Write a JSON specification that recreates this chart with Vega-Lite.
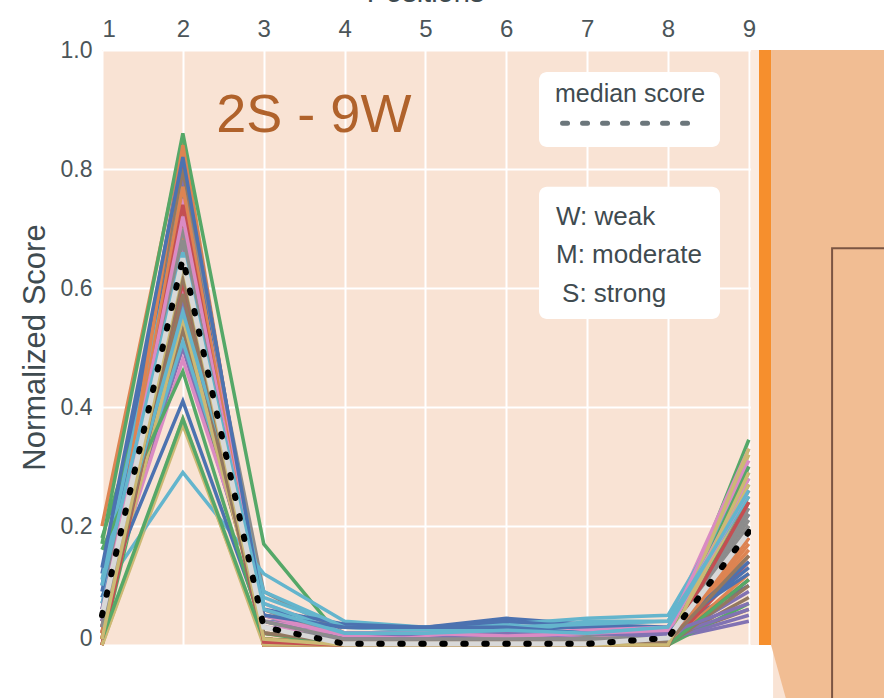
{
"$schema":"https://vega.github.io/schema/vega-lite/v6.json",
"width":782,"height":648,
"autosize":"none",
"padding":{"left":102,"top":50,"right":0,"bottom":0},
"background":"#ffffff",
"config":{"view":{"stroke":null,"fill":"#f9e3d4"},"font":"Liberation Sans"},
"datasets":{
"scores":[
{"s":0,"x":1,"y":0.12},{"s":0,"x":2,"y":0.78},{"s":0,"x":3,"y":0.05},{"s":0,"x":4,"y":0.03},{"s":0,"x":5,"y":0.03},{"s":0,"x":6,"y":0.045},{"s":0,"x":7,"y":0.035},{"s":0,"x":8,"y":0.03},{"s":0,"x":9,"y":0.22},
{"s":1,"x":1,"y":0.2},{"s":1,"x":2,"y":0.85},{"s":1,"x":3,"y":0.02},{"s":1,"x":4,"y":0.01},{"s":1,"x":5,"y":0.01},{"s":1,"x":6,"y":0.01},{"s":1,"x":7,"y":0.01},{"s":1,"x":8,"y":0.01},{"s":1,"x":9,"y":0.15},
{"s":2,"x":1,"y":0.17},{"s":2,"x":2,"y":0.86},{"s":2,"x":3,"y":0.17},{"s":2,"x":4,"y":0.005},{"s":2,"x":5,"y":0.01},{"s":2,"x":6,"y":0.01},{"s":2,"x":7,"y":0.01},{"s":2,"x":8,"y":0.005},{"s":2,"x":9,"y":0.345},
{"s":3,"x":1,"y":0.02},{"s":3,"x":2,"y":0.81},{"s":3,"x":3,"y":0.0},{"s":3,"x":4,"y":0.0},{"s":3,"x":5,"y":0.0},{"s":3,"x":6,"y":0.0},{"s":3,"x":7,"y":0.0},{"s":3,"x":8,"y":0.0},{"s":3,"x":9,"y":0.18},
{"s":4,"x":1,"y":0.05},{"s":4,"x":2,"y":0.79},{"s":4,"x":3,"y":0.03},{"s":4,"x":4,"y":0.01},{"s":4,"x":5,"y":0.01},{"s":4,"x":6,"y":0.02},{"s":4,"x":7,"y":0.02},{"s":4,"x":8,"y":0.01},{"s":4,"x":9,"y":0.04},
{"s":5,"x":1,"y":0.03},{"s":5,"x":2,"y":0.8},{"s":5,"x":3,"y":0.02},{"s":5,"x":4,"y":0.01},{"s":5,"x":5,"y":0.01},{"s":5,"x":6,"y":0.01},{"s":5,"x":7,"y":0.01},{"s":5,"x":8,"y":0.01},{"s":5,"x":9,"y":0.06},
{"s":6,"x":1,"y":0.04},{"s":6,"x":2,"y":0.6},{"s":6,"x":3,"y":0.06},{"s":6,"x":4,"y":0.015},{"s":6,"x":5,"y":0.02},{"s":6,"x":6,"y":0.01},{"s":6,"x":7,"y":0.02},{"s":6,"x":8,"y":0.03},{"s":6,"x":9,"y":0.33},
{"s":7,"x":1,"y":0.06},{"s":7,"x":2,"y":0.77},{"s":7,"x":3,"y":0.09},{"s":7,"x":4,"y":0.02},{"s":7,"x":5,"y":0.015},{"s":7,"x":6,"y":0.02},{"s":7,"x":7,"y":0.015},{"s":7,"x":8,"y":0.02},{"s":7,"x":9,"y":0.25},
{"s":8,"x":1,"y":0.0},{"s":8,"x":2,"y":0.37},{"s":8,"x":3,"y":0.01},{"s":8,"x":4,"y":0.0},{"s":8,"x":5,"y":0.0},{"s":8,"x":6,"y":0.0},{"s":8,"x":7,"y":0.0},{"s":8,"x":8,"y":0.0},{"s":8,"x":9,"y":0.32},
{"s":9,"x":1,"y":0.09},{"s":9,"x":2,"y":0.29},{"s":9,"x":3,"y":0.12},{"s":9,"x":4,"y":0.04},{"s":9,"x":5,"y":0.03},{"s":9,"x":6,"y":0.035},{"s":9,"x":7,"y":0.045},{"s":9,"x":8,"y":0.05},{"s":9,"x":9,"y":0.28},
{"s":10,"x":1,"y":0.1},{"s":10,"x":2,"y":0.83},{"s":10,"x":3,"y":0.04},{"s":10,"x":4,"y":0.03},{"s":10,"x":5,"y":0.025},{"s":10,"x":6,"y":0.03},{"s":10,"x":7,"y":0.03},{"s":10,"x":8,"y":0.025},{"s":10,"x":9,"y":0.1},
{"s":11,"x":1,"y":0.01},{"s":11,"x":2,"y":0.73},{"s":11,"x":3,"y":0.01},{"s":11,"x":4,"y":0.0},{"s":11,"x":5,"y":0.0},{"s":11,"x":6,"y":0.0},{"s":11,"x":7,"y":0.005},{"s":11,"x":8,"y":0.0},{"s":11,"x":9,"y":0.12},
{"s":12,"x":1,"y":0.0},{"s":12,"x":2,"y":0.57},{"s":12,"x":3,"y":0.02},{"s":12,"x":4,"y":0.005},{"s":12,"x":5,"y":0.005},{"s":12,"x":6,"y":0.005},{"s":12,"x":7,"y":0.005},{"s":12,"x":8,"y":0.0},{"s":12,"x":9,"y":0.07},
{"s":13,"x":1,"y":0.03},{"s":13,"x":2,"y":0.71},{"s":13,"x":3,"y":0.0},{"s":13,"x":4,"y":0.0},{"s":13,"x":5,"y":0.0},{"s":13,"x":6,"y":0.0},{"s":13,"x":7,"y":0.0},{"s":13,"x":8,"y":0.0},{"s":13,"x":9,"y":0.14},
{"s":14,"x":1,"y":0.07},{"s":14,"x":2,"y":0.5},{"s":14,"x":3,"y":0.05},{"s":14,"x":4,"y":0.02},{"s":14,"x":5,"y":0.02},{"s":14,"x":6,"y":0.02},{"s":14,"x":7,"y":0.01},{"s":14,"x":8,"y":0.01},{"s":14,"x":9,"y":0.09},
{"s":15,"x":1,"y":0.04},{"s":15,"x":2,"y":0.53},{"s":15,"x":3,"y":0.03},{"s":15,"x":4,"y":0.01},{"s":15,"x":5,"y":0.01},{"s":15,"x":6,"y":0.01},{"s":15,"x":7,"y":0.01},{"s":15,"x":8,"y":0.01},{"s":15,"x":9,"y":0.2},
{"s":16,"x":1,"y":0.06},{"s":16,"x":2,"y":0.48},{"s":16,"x":3,"y":0.07},{"s":16,"x":4,"y":0.02},{"s":16,"x":5,"y":0.02},{"s":16,"x":6,"y":0.02},{"s":16,"x":7,"y":0.01},{"s":16,"x":8,"y":0.02},{"s":16,"x":9,"y":0.3},
{"s":17,"x":1,"y":0.02},{"s":17,"x":2,"y":0.66},{"s":17,"x":3,"y":0.05},{"s":17,"x":4,"y":0.01},{"s":17,"x":5,"y":0.01},{"s":17,"x":6,"y":0.01},{"s":17,"x":7,"y":0.01},{"s":17,"x":8,"y":0.015},{"s":17,"x":9,"y":0.21},
{"s":18,"x":1,"y":0.01},{"s":18,"x":2,"y":0.7},{"s":18,"x":3,"y":0.01},{"s":18,"x":4,"y":0.0},{"s":18,"x":5,"y":0.005},{"s":18,"x":6,"y":0.005},{"s":18,"x":7,"y":0.0},{"s":18,"x":8,"y":0.0},{"s":18,"x":9,"y":0.26},
{"s":19,"x":1,"y":0.08},{"s":19,"x":2,"y":0.51},{"s":19,"x":3,"y":0.08},{"s":19,"x":4,"y":0.03},{"s":19,"x":5,"y":0.03},{"s":19,"x":6,"y":0.02},{"s":19,"x":7,"y":0.04},{"s":19,"x":8,"y":0.04},{"s":19,"x":9,"y":0.29},
{"s":20,"x":1,"y":0.09},{"s":20,"x":2,"y":0.76},{"s":20,"x":3,"y":0.06},{"s":20,"x":4,"y":0.035},{"s":20,"x":5,"y":0.03},{"s":20,"x":6,"y":0.04},{"s":20,"x":7,"y":0.03},{"s":20,"x":8,"y":0.03},{"s":20,"x":9,"y":0.12},
{"s":21,"x":1,"y":0.0},{"s":21,"x":2,"y":0.69},{"s":21,"x":3,"y":0.0},{"s":21,"x":4,"y":0.0},{"s":21,"x":5,"y":0.0},{"s":21,"x":6,"y":0.0},{"s":21,"x":7,"y":0.0},{"s":21,"x":8,"y":0.0},{"s":21,"x":9,"y":0.17},
{"s":22,"x":1,"y":0.18},{"s":22,"x":2,"y":0.62},{"s":22,"x":3,"y":0.04},{"s":22,"x":4,"y":0.01},{"s":22,"x":5,"y":0.01},{"s":22,"x":6,"y":0.01},{"s":22,"x":7,"y":0.01},{"s":22,"x":8,"y":0.005},{"s":22,"x":9,"y":0.24},
{"s":23,"x":1,"y":0.0},{"s":23,"x":2,"y":0.64},{"s":23,"x":3,"y":0.0},{"s":23,"x":4,"y":0.0},{"s":23,"x":5,"y":0.0},{"s":23,"x":6,"y":0.0},{"s":23,"x":7,"y":0.0},{"s":23,"x":8,"y":0.0},{"s":23,"x":9,"y":0.11},
{"s":24,"x":1,"y":0.03},{"s":24,"x":2,"y":0.58},{"s":24,"x":3,"y":0.02},{"s":24,"x":4,"y":0.01},{"s":24,"x":5,"y":0.01},{"s":24,"x":6,"y":0.015},{"s":24,"x":7,"y":0.01},{"s":24,"x":8,"y":0.01},{"s":24,"x":9,"y":0.05},
{"s":25,"x":1,"y":0.05},{"s":25,"x":2,"y":0.72},{"s":25,"x":3,"y":0.02},{"s":25,"x":4,"y":0.01},{"s":25,"x":5,"y":0.01},{"s":25,"x":6,"y":0.01},{"s":25,"x":7,"y":0.01},{"s":25,"x":8,"y":0.005},{"s":25,"x":9,"y":0.08},
{"s":26,"x":1,"y":0.02},{"s":26,"x":2,"y":0.67},{"s":26,"x":3,"y":0.04},{"s":26,"x":4,"y":0.02},{"s":26,"x":5,"y":0.015},{"s":26,"x":6,"y":0.02},{"s":26,"x":7,"y":0.025},{"s":26,"x":8,"y":0.03},{"s":26,"x":9,"y":0.31},
{"s":27,"x":1,"y":0.04},{"s":27,"x":2,"y":0.63},{"s":27,"x":3,"y":0.06},{"s":27,"x":4,"y":0.01},{"s":27,"x":5,"y":0.01},{"s":27,"x":6,"y":0.01},{"s":27,"x":7,"y":0.01},{"s":27,"x":8,"y":0.01},{"s":27,"x":9,"y":0.23},
{"s":28,"x":1,"y":0.02},{"s":28,"x":2,"y":0.55},{"s":28,"x":3,"y":0.02},{"s":28,"x":4,"y":0.0},{"s":28,"x":5,"y":0.0},{"s":28,"x":6,"y":0.0},{"s":28,"x":7,"y":0.0},{"s":28,"x":8,"y":0.0},{"s":28,"x":9,"y":0.33},
{"s":29,"x":1,"y":0.11},{"s":29,"x":2,"y":0.74},{"s":29,"x":3,"y":0.07},{"s":29,"x":4,"y":0.02},{"s":29,"x":5,"y":0.02},{"s":29,"x":6,"y":0.03},{"s":29,"x":7,"y":0.02},{"s":29,"x":8,"y":0.03},{"s":29,"x":9,"y":0.27},
{"s":30,"x":1,"y":0.08},{"s":30,"x":2,"y":0.41},{"s":30,"x":3,"y":0.03},{"s":30,"x":4,"y":0.02},{"s":30,"x":5,"y":0.02},{"s":30,"x":6,"y":0.02},{"s":30,"x":7,"y":0.02},{"s":30,"x":8,"y":0.02},{"s":30,"x":9,"y":0.13},
{"s":31,"x":1,"y":0.01},{"s":31,"x":2,"y":0.84},{"s":31,"x":3,"y":0.01},{"s":31,"x":4,"y":0.005},{"s":31,"x":5,"y":0.005},{"s":31,"x":6,"y":0.01},{"s":31,"x":7,"y":0.005},{"s":31,"x":8,"y":0.005},{"s":31,"x":9,"y":0.16},
{"s":32,"x":1,"y":0.16},{"s":32,"x":2,"y":0.46},{"s":32,"x":3,"y":0.02},{"s":32,"x":4,"y":0.0},{"s":32,"x":5,"y":0.005},{"s":32,"x":6,"y":0.0},{"s":32,"x":7,"y":0.0},{"s":32,"x":8,"y":0.0},{"s":32,"x":9,"y":0.3},
{"s":33,"x":1,"y":0.0},{"s":33,"x":2,"y":0.61},{"s":33,"x":3,"y":0.0},{"s":33,"x":4,"y":0.0},{"s":33,"x":5,"y":0.0},{"s":33,"x":6,"y":0.0},{"s":33,"x":7,"y":0.0},{"s":33,"x":8,"y":0.0},{"s":33,"x":9,"y":0.19},
{"s":34,"x":1,"y":0.04},{"s":34,"x":2,"y":0.68},{"s":34,"x":3,"y":0.03},{"s":34,"x":4,"y":0.01},{"s":34,"x":5,"y":0.02},{"s":34,"x":6,"y":0.02},{"s":34,"x":7,"y":0.02},{"s":34,"x":8,"y":0.015},{"s":34,"x":9,"y":0.06},
{"s":35,"x":1,"y":0.02},{"s":35,"x":2,"y":0.59},{"s":35,"x":3,"y":0.01},{"s":35,"x":4,"y":0.0},{"s":35,"x":5,"y":0.005},{"s":35,"x":6,"y":0.005},{"s":35,"x":7,"y":0.005},{"s":35,"x":8,"y":0.0},{"s":35,"x":9,"y":0.1},
{"s":36,"x":1,"y":0.03},{"s":36,"x":2,"y":0.75},{"s":36,"x":3,"y":0.05},{"s":36,"x":4,"y":0.015},{"s":36,"x":5,"y":0.01},{"s":36,"x":6,"y":0.015},{"s":36,"x":7,"y":0.02},{"s":36,"x":8,"y":0.02},{"s":36,"x":9,"y":0.28},
{"s":37,"x":1,"y":0.05},{"s":37,"x":2,"y":0.7},{"s":37,"x":3,"y":0.03},{"s":37,"x":4,"y":0.01},{"s":37,"x":5,"y":0.01},{"s":37,"x":6,"y":0.01},{"s":37,"x":7,"y":0.01},{"s":37,"x":8,"y":0.01},{"s":37,"x":9,"y":0.22},
{"s":38,"x":1,"y":0.0},{"s":38,"x":2,"y":0.38},{"s":38,"x":3,"y":0.0},{"s":38,"x":4,"y":0.0},{"s":38,"x":5,"y":0.0},{"s":38,"x":6,"y":0.0},{"s":38,"x":7,"y":0.0},{"s":38,"x":8,"y":0.0},{"s":38,"x":9,"y":0.27},
{"s":39,"x":1,"y":0.07},{"s":39,"x":2,"y":0.56},{"s":39,"x":3,"y":0.09},{"s":39,"x":4,"y":0.03},{"s":39,"x":5,"y":0.025},{"s":39,"x":6,"y":0.03},{"s":39,"x":7,"y":0.035},{"s":39,"x":8,"y":0.04},{"s":39,"x":9,"y":0.25},
{"s":40,"x":1,"y":0.13},{"s":40,"x":2,"y":0.82},{"s":40,"x":3,"y":0.05},{"s":40,"x":4,"y":0.03},{"s":40,"x":5,"y":0.03},{"s":40,"x":6,"y":0.03},{"s":40,"x":7,"y":0.02},{"s":40,"x":8,"y":0.02},{"s":40,"x":9,"y":0.14},
{"s":41,"x":1,"y":0.02},{"s":41,"x":2,"y":0.77},{"s":41,"x":3,"y":0.01},{"s":41,"x":4,"y":0.0},{"s":41,"x":5,"y":0.0},{"s":41,"x":6,"y":0.005},{"s":41,"x":7,"y":0.0},{"s":41,"x":8,"y":0.0},{"s":41,"x":9,"y":0.18},
{"s":42,"x":1,"y":0.01},{"s":42,"x":2,"y":0.38},{"s":42,"x":3,"y":0.01},{"s":42,"x":4,"y":0.0},{"s":42,"x":5,"y":0.0},{"s":42,"x":6,"y":0.0},{"s":42,"x":7,"y":0.0},{"s":42,"x":8,"y":0.0},{"s":42,"x":9,"y":0.11},
{"s":43,"x":1,"y":0.01},{"s":43,"x":2,"y":0.74},{"s":43,"x":3,"y":0.005},{"s":43,"x":4,"y":0.0},{"s":43,"x":5,"y":0.0},{"s":43,"x":6,"y":0.0},{"s":43,"x":7,"y":0.0},{"s":43,"x":8,"y":0.0},{"s":43,"x":9,"y":0.24},
{"s":44,"x":1,"y":0.06},{"s":44,"x":2,"y":0.65},{"s":44,"x":3,"y":0.04},{"s":44,"x":4,"y":0.01},{"s":44,"x":5,"y":0.01},{"s":44,"x":6,"y":0.02},{"s":44,"x":7,"y":0.02},{"s":44,"x":8,"y":0.02},{"s":44,"x":9,"y":0.07},
{"s":45,"x":1,"y":0.03},{"s":45,"x":2,"y":0.62},{"s":45,"x":3,"y":0.02},{"s":45,"x":4,"y":0.005},{"s":45,"x":5,"y":0.005},{"s":45,"x":6,"y":0.005},{"s":45,"x":7,"y":0.005},{"s":45,"x":8,"y":0.005},{"s":45,"x":9,"y":0.15},
{"s":46,"x":1,"y":0.05},{"s":46,"x":2,"y":0.72},{"s":46,"x":3,"y":0.03},{"s":46,"x":4,"y":0.02},{"s":46,"x":5,"y":0.02},{"s":46,"x":6,"y":0.015},{"s":46,"x":7,"y":0.02},{"s":46,"x":8,"y":0.025},{"s":46,"x":9,"y":0.26},
{"s":47,"x":1,"y":0.03},{"s":47,"x":2,"y":0.68},{"s":47,"x":3,"y":0.04},{"s":47,"x":4,"y":0.01},{"s":47,"x":5,"y":0.01},{"s":47,"x":6,"y":0.01},{"s":47,"x":7,"y":0.01},{"s":47,"x":8,"y":0.01},{"s":47,"x":9,"y":0.2},
{"s":48,"x":1,"y":0.01},{"s":48,"x":2,"y":0.64},{"s":48,"x":3,"y":0.01},{"s":48,"x":4,"y":0.0},{"s":48,"x":5,"y":0.0},{"s":48,"x":6,"y":0.0},{"s":48,"x":7,"y":0.0},{"s":48,"x":8,"y":0.0},{"s":48,"x":9,"y":0.29},
{"s":49,"x":1,"y":0.1},{"s":49,"x":2,"y":0.66},{"s":49,"x":3,"y":0.06},{"s":49,"x":4,"y":0.02},{"s":49,"x":5,"y":0.02},{"s":49,"x":6,"y":0.025},{"s":49,"x":7,"y":0.02},{"s":49,"x":8,"y":0.03},{"s":49,"x":9,"y":0.26}
],
"median":[
{"x":1,"y":0.05},{"x":2,"y":0.65},{"x":3,"y":0.03},{"x":4,"y":0.002},{"x":5,"y":0.002},{"x":6,"y":0.002},{"x":7,"y":0.002},{"x":8,"y":0.012},{"x":9,"y":0.19}
]
},
"encoding":{
"x":{"field":"x","type":"quantitative","scale":{"domain":[1,10.672],"nice":false,"zero":false},
"axis":{"orient":"top","values":[1,2,3,4,5,6,7,8,9],"format":"d","grid":true,"gridColor":"#ffffff","gridWidth":2,"gridOpacity":1,"ticks":false,"domain":false,
"labelFont":"Liberation Sans","labelFontSize":24,"labelColor":"#4b5559","labelPadding":14,"labelBaseline":"alphabetic",
"title":"Positions","titleFont":"Liberation Sans","titleFontSize":29,"titleFontWeight":"normal","titleColor":"#3f4b50","titleX":323,"titleY":-49,"titleAlign":"center","titleBaseline":"alphabetic"}},
"y":{"field":"y","type":"quantitative","scale":{"domain":[-0.089,1],"nice":false,"zero":false},
"axis":{"orient":"left","values":[0,0.2,0.4,0.6,0.8,1],"labelExpr":"datum.value == 0 ? '0' : format(datum.value, '.1f')","grid":true,"gridColor":"#ffffff","gridWidth":2,"gridOpacity":1,"ticks":false,"domain":false,
"labelFont":"Liberation Sans","labelFontSize":23,"labelColor":"#4b5559","labelPadding":10,
"labelOffset":{"condition":{"test":"datum.value == 0","value":-7},"value":0},
"title":"Normalized Score","titleFont":"Liberation Sans","titleFontSize":31,"titleFontWeight":"normal","titleColor":"#3f4b50","titleX":-67,"titleY":297,"titleAngle":270,"titleAlign":"center","titleBaseline":"middle"}}
},
"layer":[
{"data":{"values":[{"x":1,"x2":9.3,"y":-0.2,"y2":0}]},"mark":{"type":"rect","fill":"#ffffff"},"encoding":{"x2":{"field":"x2"},"y2":{"field":"y2"}}},
{"data":{"name":"scores"},"mark":{"type":"line","strokeWidth":3.5},"encoding":{"color":{"field":"s","type":"nominal","legend":null,"scale":{"range":["#4C72B0","#DD8452","#55A868","#C44E52","#8172B3","#937860","#DA8BC3","#8C8C8C","#CCB974","#64B5CD"]}}}},
{"data":{"name":"median"},"mark":{"type":"line","strokeWidth":5,"color":"#d8d8d8"}},
{"data":{"name":"median"},"mark":{"type":"line","strokeWidth":6,"color":"#000000","strokeDash":[2.5,18.5],"strokeCap":"round"}},
{"data":{"values":[{"x":9.027,"x2":9.126,"y":0,"y2":1}]},"mark":{"type":"rect","fill":"#fbebe0"},"encoding":{"x2":{"field":"x2"},"y2":{"field":"y2"}}},
{"data":{"values":[{"x":9.126,"x2":9.275,"y":0,"y2":1}]},"mark":{"type":"rect","fill":"#f68f2d"},"encoding":{"x2":{"field":"x2"},"y2":{"field":"y2"}}},
{"data":{"values":[{"x":9.275,"x2":10.672,"y":0,"y2":1}]},"mark":{"type":"rect","fill":"#f1bd93"},"encoding":{"x2":{"field":"x2"},"y2":{"field":"y2"}}},
{"data":{"values":[{"y":0,"x":9.275,"x2":10.672},{"y":-0.089,"x":9.457,"x2":10.672}]},"mark":{"type":"area","orient":"horizontal","fill":"#f1bd93"},"encoding":{"x2":{"field":"x2"}}},
{"data":{"values":[{"x":10.03,"x2":10.9,"y":0.667,"y2":-0.2}]},"mark":{"type":"rect","fill":null,"fillOpacity":0,"stroke":"#7b5543","strokeWidth":2},"encoding":{"x2":{"field":"x2"},"y2":{"field":"y2"}}},
{"data":{"values":[{"x":6.405,"x2":8.644,"y":0.837,"y2":0.963},{"x":6.405,"x2":8.644,"y":0.548,"y2":0.77}]},"mark":{"type":"rect","fill":"#ffffff","cornerRadius":8},"encoding":{"x2":{"field":"x2"},"y2":{"field":"y2"}}},
{"data":{"values":[{"x":6.696,"x2":8.33,"y":0.877}]},"mark":{"type":"rule","stroke":"#6c777c","strokeWidth":5,"strokeDash":[5,15],"strokeCap":"round"},"encoding":{"x2":{"field":"x2"}}},
{"data":{"values":[{"x":7.531,"y":0.913,"t":"median score"}]},"mark":{"type":"text","align":"center","baseline":"alphabetic","fontSize":25,"color":"#3f4b50","font":"Liberation Sans"},"encoding":{"text":{"field":"t"}}},
{"data":{"values":[{"x":6.615,"y":0.706,"t":"W: weak"},{"x":6.615,"y":0.642,"t":"M: moderate"},{"x":6.69,"y":0.576,"t":"S: strong"}]},"mark":{"type":"text","align":"left","baseline":"alphabetic","fontSize":26,"color":"#3f4b50","font":"Liberation Sans"},"encoding":{"text":{"field":"t"}}},
{"data":{"values":[{"x":3.62,"y":0.862,"t":"2S - 9W"}]},"mark":{"type":"text","align":"center","baseline":"alphabetic","fontSize":54,"color":"#b0622b","font":"Liberation Sans"},"encoding":{"text":{"field":"t"}}}
]
}
